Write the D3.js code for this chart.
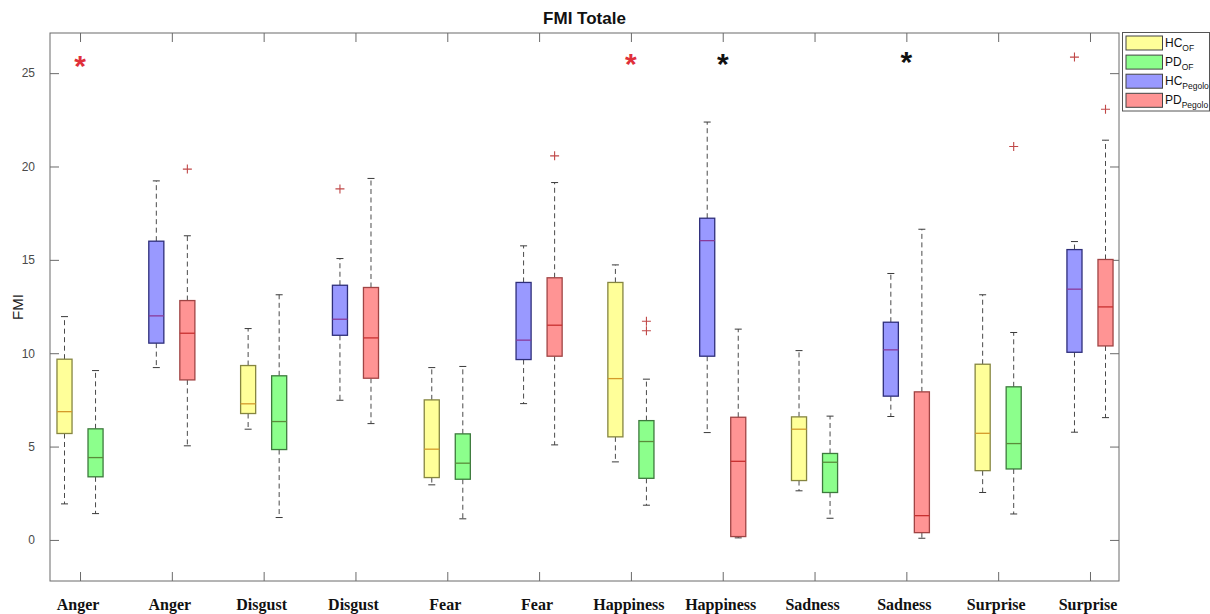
<!DOCTYPE html>
<html>
<head>
<meta charset="utf-8">
<script src="https://cdn.jsdelivr.net/npm/d3@7"></script>
<style>
  html, body { margin: 0; padding: 0; background: #fff; }
  svg { display: block; }
</style>
</head>
<body>
<svg id="chart" width="1210" height="614"></svg>
<script>
// ---------------- DATA ----------------
const xLabels = ["Anger", "Anger", "Disgust", "Disgust", "Fear", "Fear",
                 "Happiness", "Happiness", "Sadness", "Sadness", "Surprise", "Surprise"];
const yTicks = [0, 5, 10, 15, 20, 25];
const seriesNames = ["HC_OF", "PD_OF", "HC_Pegolo", "PD_Pegolo"];

// [lower whisker, Q1, median, Q3, upper whisker] per emotion
const hcOF = [
  [1.93, 5.70, 6.87, 9.68, 11.96],
  [5.93, 6.77, 7.29, 9.34, 11.32],
  [2.95, 3.34, 4.86, 7.50, 9.23],
  [4.18, 5.52, 8.64, 13.79, 14.73],
  [2.63, 3.18, 5.93, 6.59, 10.14],
  [2.54, 3.71, 5.71, 9.41, 13.13]
];
const pdOF = [
  [1.41, 3.38, 4.41, 5.95, 9.07],
  [1.20, 4.84, 6.34, 8.79, 13.13],
  [1.13, 3.25, 4.11, 5.68, 9.29],
  [1.86, 3.30, 5.27, 6.39, 8.61],
  [1.16, 2.54, 4.16, 4.63, 6.63],
  [1.39, 3.80, 5.16, 8.20, 11.11]
];
const hcPegolo = [
  [9.23, 10.54, 12.00, 16.00, 19.23],
  [7.48, 10.96, 11.82, 13.64, 15.07],
  [7.30, 9.66, 10.70, 13.79, 15.75],
  [5.75, 9.84, 16.03, 17.23, 22.38],
  [6.61, 7.70, 10.18, 11.66, 14.27],
  [5.77, 10.05, 13.43, 15.55, 15.98]
];
const pdPegolo = [
  [5.04, 8.57, 11.07, 12.82, 16.29],
  [6.23, 8.66, 10.82, 13.52, 19.36],
  [5.09, 9.84, 11.50, 14.04, 19.14],
  [0.11, 0.18, 4.21, 6.57, 11.29],
  [0.09, 0.39, 1.30, 7.93, 16.64],
  [6.55, 10.39, 12.48, 15.02, 21.41]
];
// outliers per emotion
const hcOFOut = [[], [], [], [], [], []];
const pdOFOut = [[], [], [], [11.20, 11.71], [], [21.07]];
const hcPegoloOut = [[], [18.80], [], [], [], [25.86]];
const pdPegoloOut = [[19.86], [], [20.57], [], [], [23.07]];

// significance stars: tick position (1-based), value, kind
const starPos = [1, 7, 8, 10];
const starVal = [25.6, 25.7, 25.7, 25.8];
const starKind = ["red", "red", "black", "black"];

// ---------------- LAYOUT ----------------
const plot = { left: 50, right: 1119, top: 33, bottom: 581 };
const svg = d3.select("#chart");

const x = d3.scaleLinear().domain([0.673, 12.316]).range([plot.left, plot.right]);
const y = d3.scaleLinear().domain([-2.2, 27.15]).range([plot.bottom, plot.top]);

const pairOffset = 0.169;   // in x units
const boxHalf = 0.082;      // in x units
const capHalf = 3.5;        // px

const styles = {
  HC_OF:     { fill: "#ffff99", stroke: "#858540", median: "#d49a2a" },
  PD_OF:     { fill: "#8cff8c", stroke: "#3d7a3d", median: "#5a8c3a" },
  HC_Pegolo: { fill: "#9999ff", stroke: "#2e2e7a", median: "#8a3a9a" },
  PD_Pegolo: { fill: "#ff9494", stroke: "#a04444", median: "#c83030" }
};

// build box list from arrays
const boxes = [];
function addSeries(name, stats, outs, isPegolo, side) {
  stats.forEach((s, i) => {
    const pos = 2 * i + (isPegolo ? 2 : 1);
    boxes.push({ name, pos: pos + side * pairOffset, s, out: outs[i] });
  });
}
addSeries("HC_OF", hcOF, hcOFOut, false, -1);
addSeries("PD_OF", pdOF, pdOFOut, false, 1);
addSeries("HC_Pegolo", hcPegolo, hcPegoloOut, true, -1);
addSeries("PD_Pegolo", pdPegolo, pdPegoloOut, true, 1);

// ---------------- TITLE & LABELS ----------------
svg.append("text")
  .attr("x", (plot.left + plot.right) / 2).attr("y", 24)
  .attr("text-anchor", "middle")
  .attr("font-family", "Liberation Sans, Arial, sans-serif")
  .attr("font-weight", "bold").attr("font-size", 17)
  .attr("fill", "#111")
  .text("FMI Totale");

svg.append("text")
  .attr("transform", `translate(23,${(plot.top + plot.bottom) / 2}) rotate(-90)`)
  .attr("text-anchor", "middle")
  .attr("font-family", "Liberation Sans, Arial, sans-serif")
  .attr("font-size", 15).attr("fill", "#222")
  .text("FMI");

// ---------------- AXES ----------------
const axisColor = "#6a6a6a";
const g = svg.append("g");

const yAxisL = d3.axisLeft(y).tickValues(yTicks).tickSize(-9).tickPadding(15);
g.append("g").attr("transform", `translate(${plot.left},0)`).call(yAxisL)
  .call(a => a.select(".domain").remove())
  .call(a => a.selectAll("line").attr("stroke", axisColor))
  .call(a => a.selectAll("text").attr("font-family", "Liberation Sans, Arial, sans-serif")
    .attr("font-size", 12).attr("fill", "#4a4a4a"));

const yAxisR = d3.axisRight(y).tickValues(yTicks).tickSize(-9).tickFormat("");
g.append("g").attr("transform", `translate(${plot.right},0)`).call(yAxisR)
  .call(a => a.select(".domain").remove())
  .call(a => a.selectAll("line").attr("stroke", axisColor));

const xTicks = d3.range(1, 13);
const xAxisB = d3.axisBottom(x).tickValues(xTicks).tickSize(-9).tickFormat("");
g.append("g").attr("transform", `translate(0,${plot.bottom})`).call(xAxisB)
  .call(a => a.select(".domain").remove())
  .call(a => a.selectAll("line").attr("stroke", axisColor));
const xAxisT = d3.axisTop(x).tickValues(xTicks).tickSize(-9).tickFormat("");
g.append("g").attr("transform", `translate(0,${plot.top})`).call(xAxisT)
  .call(a => a.select(".domain").remove())
  .call(a => a.selectAll("line").attr("stroke", axisColor));

svg.append("rect")
  .attr("x", plot.left).attr("y", plot.top)
  .attr("width", plot.right - plot.left).attr("height", plot.bottom - plot.top)
  .attr("fill", "none").attr("stroke", axisColor).attr("stroke-width", 1);

svg.append("g").selectAll("text").data(xLabels).join("text")
  .attr("x", (d, i) => x(i + 1) - 2)
  .attr("y", 610)
  .attr("text-anchor", "middle")
  .attr("font-family", "Liberation Serif, Times New Roman, serif")
  .attr("font-weight", "bold").attr("font-size", 16)
  .attr("fill", "#111")
  .text(d => d);

// ---------------- BOXES ----------------
const bg = svg.append("g");
boxes.forEach(b => {
  const st = styles[b.name];
  const cx = x(b.pos);
  const x0 = x(b.pos - boxHalf), x1 = x(b.pos + boxHalf);
  const [lw, q1, med, q3, uw] = b.s;
  const grp = bg.append("g");
  grp.append("line").attr("x1", cx).attr("x2", cx).attr("y1", y(q3)).attr("y2", y(uw))
    .attr("stroke", "#4a4a4a").attr("stroke-dasharray", "5,3.5").attr("stroke-width", 1);
  grp.append("line").attr("x1", cx).attr("x2", cx).attr("y1", y(q1)).attr("y2", y(lw))
    .attr("stroke", "#4a4a4a").attr("stroke-dasharray", "5,3.5").attr("stroke-width", 1);
  [lw, uw].forEach(v => {
    grp.append("line").attr("x1", cx - capHalf).attr("x2", cx + capHalf)
      .attr("y1", y(v)).attr("y2", y(v)).attr("stroke", "#3a3a3a").attr("stroke-width", 1);
  });
  grp.append("rect").attr("x", x0).attr("y", y(q3))
    .attr("width", x1 - x0).attr("height", y(q1) - y(q3))
    .attr("fill", st.fill).attr("stroke", st.stroke).attr("stroke-width", 1.3);
  grp.append("line").attr("x1", x0).attr("x2", x1).attr("y1", y(med)).attr("y2", y(med))
    .attr("stroke", st.median).attr("stroke-width", 1.3);
  b.out.forEach(v => {
    grp.append("path")
      .attr("d", `M${cx - 4.5},${y(v)}H${cx + 4.5}M${cx},${y(v) - 4.5}V${y(v) + 4.5}`)
      .attr("stroke", "#c04848").attr("stroke-width", 1.1).attr("fill", "none");
  });
});

// ---------------- STARS ----------------
svg.append("g").selectAll("text").data(starPos).join("text")
  .attr("x", (d) => x(d))
  .attr("y", (d, i) => y(starVal[i]) + 14)
  .attr("text-anchor", "middle")
  .attr("font-family", "Liberation Sans, Arial, sans-serif")
  .attr("font-weight", "bold").attr("font-size", 30)
  .attr("fill", (d, i) => starKind[i] === "red" ? "#e0303a" : "#111")
  .text("*");

// ---------------- LEGEND ----------------
const legend = svg.append("g");
const lg = { x: 1122.5, y: 32.5, w: 87, h: 78.5 };
legend.append("rect").attr("x", lg.x).attr("y", lg.y).attr("width", lg.w).attr("height", lg.h)
  .attr("fill", "#fff").attr("stroke", "#555").attr("stroke-width", 1);
const legendMain = ["HC", "PD", "HC", "PD"];
const legendSub = ["OF", "OF", "Pegolo", "Pegolo"];
seriesNames.forEach((n, i) => {
  const ry = lg.y + 3.5 + i * 19.1;
  legend.append("rect").attr("x", lg.x + 3.5).attr("y", ry)
    .attr("width", 36.5).attr("height", 14)
    .attr("fill", styles[n].fill).attr("stroke", "#444").attr("stroke-width", 1);
  const t = legend.append("text").attr("x", lg.x + 42.5).attr("y", ry + 11)
    .attr("font-family", "Liberation Sans, Arial, sans-serif")
    .attr("font-size", 12).attr("fill", "#111");
  t.append("tspan").text(legendMain[i]);
  t.append("tspan").attr("dy", 4).attr("font-size", 8.5).text(legendSub[i]);
});
</script>
</body>
</html>
